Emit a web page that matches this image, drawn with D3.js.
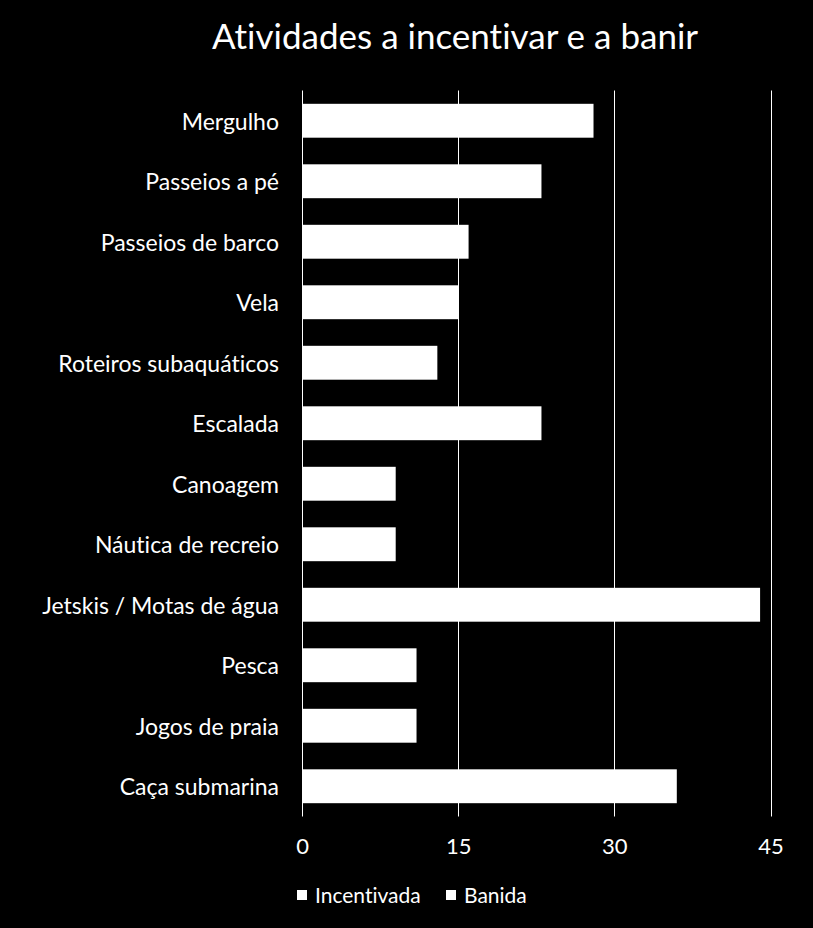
<!DOCTYPE html>
<html><head><meta charset="utf-8">
<script src="https://cdn.jsdelivr.net/npm/d3@7"></script>
<style>body{margin:0;background:#000;}svg{display:block;}text{font-variant-ligatures:none;font-feature-settings:"liga" 0;}</style>
</head><body>
<script>
const categories = ["Mergulho","Passeios a pé","Passeios de barco","Vela","Roteiros subaquáticos","Escalada","Canoagem","Náutica de recreio","Jetskis / Motas de água","Pesca","Jogos de praia","Caça submarina"];
const incentivada = [28,23,16,15,13,23,9,9,0,0,0,0];
const banida = [0,0,0,0,0,0,0,0,44,11,11,36];
const seriesNames = ["Incentivada","Banida"];
const tickValues = [0,15,30,45];
const title = "Atividades a incentivar e a banir";

const W=813,H=928;
const m={left:302,right:813-770.5,top:90.5,bottom:928-816.5};
const font = "Lato, 'Open Sans', sans-serif";
const svg=d3.select("body").append("svg").attr("width",W).attr("height",H);
svg.append("rect").attr("width",W).attr("height",H).attr("fill","#000");

const x=d3.scaleLinear().domain([0,45]).range([m.left,W-m.right]);
const y=d3.scaleBand().domain(categories).range([m.top,H-m.bottom]).paddingInner(0.44).paddingOuter(0.22);

// gridlines
svg.append("g").selectAll("line").data(tickValues).join("line")
  .attr("x1",d=>Math.round(x(d))+0.5).attr("x2",d=>Math.round(x(d))+0.5)
  .attr("y1",m.top).attr("y2",H-m.bottom)
  .attr("stroke","#fff").attr("stroke-width",1);

const data = categories.map((c,i)=>({cat:c,Incentivada:incentivada[i],Banida:banida[i]}));
const stacked = d3.stack().keys(seriesNames)(data);
svg.append("g").selectAll("g").data(stacked).join("g").attr("fill","#fff")
  .selectAll("rect").data(d=>d).join("rect")
  .attr("x",d=>x(d[0])).attr("width",d=>x(d[1])-x(d[0]))
  .attr("y",d=>y(d.data.cat)).attr("height",y.bandwidth());

// x axis labels
const xa=svg.append("g").attr("transform",`translate(0,${H-m.bottom})`)
  .call(d3.axisBottom(x).tickValues(tickValues).tickSize(0).tickPadding(0));
xa.select(".domain").remove();
xa.selectAll("text").attr("fill","#fff").attr("font-family",font).attr("font-size",22)
  .attr("dy",null).attr("y",37);

// y axis labels
const ya=svg.append("g").attr("transform",`translate(${m.left},0)`)
  .call(d3.axisLeft(y).tickSize(0).tickPadding(23));
ya.select(".domain").remove();
ya.selectAll("text").attr("fill","#fff").attr("font-family",font).attr("font-size",23).attr("dy","0.4em");

// title
svg.append("text").attr("x",455).attr("y",49).attr("text-anchor","middle")
  .attr("fill","#fff").attr("font-family",font).attr("font-size",35).text(title);

// legend
const legX=[297,446];
const lg=svg.append("g").selectAll("g").data(seriesNames).join("g")
  .attr("transform",(d,i)=>`translate(${legX[i]},895)`);
lg.append("rect").attr("x",0).attr("y",-5).attr("width",10).attr("height",10).attr("fill","#fff");
lg.append("text").attr("x",18).attr("y",8).attr("fill","#fff")
  .attr("font-family",font).attr("font-size",21).text(d=>d);
</script>
</body></html>
